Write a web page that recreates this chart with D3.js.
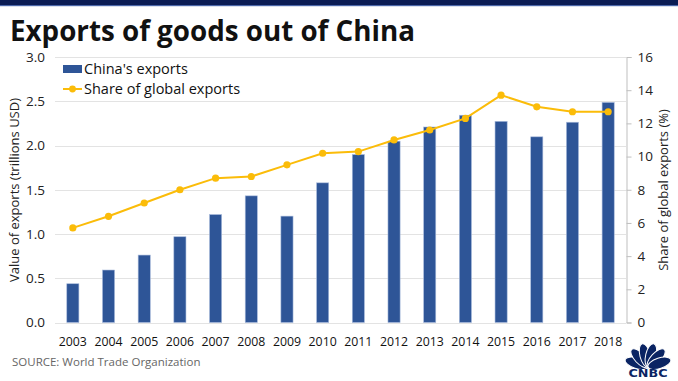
<!DOCTYPE html>
<html>
<head>
<meta charset="utf-8">
<script src="https://cdn.jsdelivr.net/npm/d3@7"></script>
<style>
  body { margin: 0; background: #fff; }
  svg { display: block; }
</style>
</head>
<body>
<div id="chart"></div>
<script>
// Data
const years = ['2003', '2004', '2005', '2006', '2007', '2008', '2009', '2010',
  '2011', '2012', '2013', '2014', '2015', '2016', '2017', '2018'];
const exportsTrillions = [0.438, 0.593, 0.762, 0.969, 1.220, 1.431, 1.202, 1.578,
  1.898, 2.049, 2.209, 2.342, 2.273, 2.098, 2.263, 2.487];
const sharePct = [5.7, 6.4, 7.2, 8.0, 8.7, 8.8, 9.5, 10.2,
  10.3, 11.0, 11.6, 12.3, 13.7, 13.0, 12.7, 12.7];
const leftTicks = [0, 0.5, 1.0, 1.5, 2.0, 2.5, 3.0];
const rightTicks = [0, 2, 4, 6, 8, 10, 12, 14, 16];

// Config
const width = 678;
const height = 381;
const margin = {top: 57, right: 52, bottom: 58, left: 55};
const font = 'Open Sans, sans-serif';
const barColor = '#2e5597';
const lineColor = '#fbbc09';

const svg = d3.select('#chart').append('svg')
  .attr('width', width)
  .attr('height', height);

// Top banner
svg.append('rect').attr('x', 0).attr('y', 0).attr('width', width).attr('height', 5).attr('fill', '#0b1c54');
svg.append('rect').attr('x', 0).attr('y', 5).attr('width', width).attr('height', 1.2).attr('fill', '#4a66a8');

// Title
const title = svg.append('text')
  .attr('x', 10)
  .attr('y', 41)
  .attr('font-family', font)
  .attr('font-weight', 700)
  .attr('font-size', 30)
  .attr('fill', '#111')
  .text('Exports of goods out of China');
const tw = title.node().getComputedTextLength();
title.attr('font-size', 30 * 405 / tw);

// Scales
const x = d3.scaleBand()
  .domain(years)
  .range([margin.left, width - margin.right])
  .paddingInner(0.66)
  .paddingOuter(0.33);

const xc = d => x(d) + x.bandwidth() / 2;

const y = d3.scaleLinear()
  .domain([0, 3])
  .range([height - margin.bottom - 0.5, margin.top]);

const y2 = d3.scaleLinear()
  .domain([0, 16])
  .range([height - margin.bottom - 0.5, margin.top]);

// Gridlines
svg.append('g')
  .selectAll('line')
  .data(leftTicks)
  .join('line')
  .attr('x1', margin.left)
  .attr('x2', width - margin.right)
  .attr('y1', d => Math.round(y(d)) + 0.5)
  .attr('y2', d => Math.round(y(d)) + 0.5)
  .attr('stroke', '#e3e3e3')
  .attr('stroke-width', 1);

// Left axis
const yAxis = svg.append('g')
  .attr('transform', `translate(${margin.left},0)`)
  .call(d3.axisLeft(y).tickValues(leftTicks).tickFormat(d3.format('.1f')).tickSize(0).tickPadding(10));
yAxis.select('.domain').remove();
yAxis.selectAll('text')
  .attr('font-family', font)
  .attr('font-size', 13.5)
  .attr('fill', '#222');

// Right axis
const y2Axis = svg.append('g')
  .attr('transform', `translate(${width - margin.right + 0.5},0)`)
  .call(d3.axisRight(y2).tickValues(rightTicks).tickSize(5).tickPadding(6));
y2Axis.select('.domain').attr('stroke', '#bfbfbf');
y2Axis.selectAll('.tick line').attr('stroke', '#bfbfbf');
y2Axis.selectAll('text')
  .attr('font-family', font)
  .attr('font-size', 13.5)
  .attr('fill', '#222');

// X axis labels
const xAxis = svg.append('g')
  .attr('transform', `translate(0,${height - margin.bottom})`)
  .call(d3.axisBottom(x).tickSize(0).tickPadding(14));
xAxis.select('.domain').remove();
xAxis.selectAll('text')
  .attr('font-family', font)
  .attr('font-size', 12.3)
  .attr('fill', '#111');

// Bars
svg.append('g')
  .selectAll('rect')
  .data(years)
  .join('rect')
  .attr('x', d => x(d))
  .attr('width', x.bandwidth())
  .attr('y', (d, i) => y(exportsTrillions[i]))
  .attr('height', (d, i) => y(0) - y(exportsTrillions[i]))
  .attr('fill', barColor)
  .attr('stroke', '#a9bbdc')
  .attr('stroke-width', 0.6);

// Line
const line = d3.line()
  .x(d => xc(d[0]))
  .y(d => y2(d[1]));

const pts = years.map((d, i) => [d, sharePct[i]]);

svg.append('path')
  .datum(pts)
  .attr('d', line)
  .attr('fill', 'none')
  .attr('stroke', lineColor)
  .attr('stroke-width', 2);

svg.append('g')
  .selectAll('circle')
  .data(pts)
  .join('circle')
  .attr('cx', d => xc(d[0]))
  .attr('cy', d => y2(d[1]))
  .attr('r', 3.6)
  .attr('fill', lineColor);

// Axis titles
svg.append('text')
  .attr('transform', `translate(19,${(margin.top + height - margin.bottom) / 2}) rotate(-90)`)
  .attr('text-anchor', 'middle')
  .attr('font-family', font)
  .attr('font-size', 13)
  .attr('fill', '#222')
  .text('Value of exports (trillions USD)');

svg.append('text')
  .attr('transform', `translate(668,${(margin.top + height - margin.bottom) / 2}) rotate(-90)`)
  .attr('text-anchor', 'middle')
  .attr('font-family', font)
  .attr('font-size', 13)
  .attr('fill', '#222')
  .text('Share of global exports (%)');

// Legend
const legend = svg.append('g');
legend.append('rect')
  .attr('x', 63).attr('y', 65).attr('width', 19).attr('height', 8)
  .attr('fill', barColor);
legend.append('text')
  .attr('x', 84).attr('y', 69).attr('dy', '0.35em')
  .attr('font-family', font).attr('font-size', 14.5).attr('fill', '#111')
  .text("China's exports");
legend.append('line')
  .attr('x1', 63).attr('x2', 82).attr('y1', 89).attr('y2', 89)
  .attr('stroke', lineColor).attr('stroke-width', 2);
legend.append('circle')
  .attr('cx', 72.5).attr('cy', 89).attr('r', 3.4).attr('fill', lineColor);
legend.append('text')
  .attr('x', 84).attr('y', 89).attr('dy', '0.35em')
  .attr('font-family', font).attr('font-size', 14.5).attr('fill', '#111')
  .text('Share of global exports');

// Source
svg.append('text')
  .attr('x', 12).attr('y', 366)
  .attr('font-family', font).attr('font-size', 11.5).attr('fill', '#666')
  .text('SOURCE: World Trade Organization');

// CNBC logo (simplified peacock)
const logo = svg.append('g').attr('transform', 'translate(648,367)');
const navy = '#0a2463';
[-72, -43, -14, 14, 43, 72].forEach(a => {
  logo.append('ellipse')
    .attr('cx', 0).attr('cy', -12)
    .attr('rx', 5.2).attr('ry', 12)
    .attr('fill', navy)
    .attr('stroke', '#fff')
    .attr('stroke-width', 1)
    .attr('transform', `rotate(${a})`);
});
logo.append('text')
  .attr('x', -19.5).attr('y', 9.5)
  .attr('textLength', 39)
  .attr('lengthAdjust', 'spacingAndGlyphs')
  .attr('font-family', 'DejaVu Sans, sans-serif')
  .attr('font-weight', 900)
  .attr('font-size', 11)
  .attr('fill', navy)
  .text('CNBC');
</script>
</body>
</html>
